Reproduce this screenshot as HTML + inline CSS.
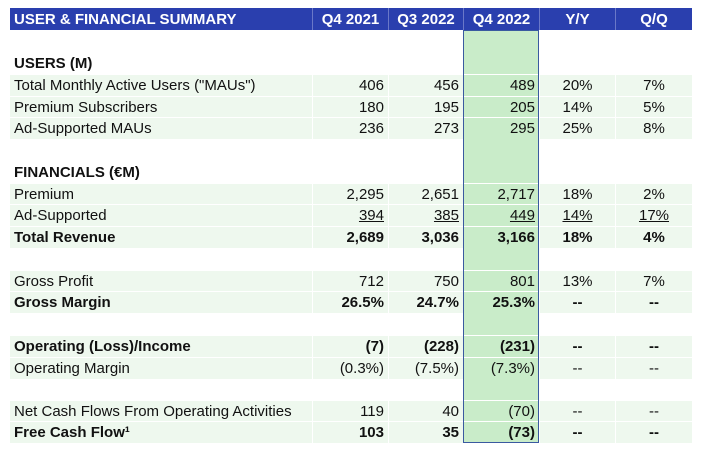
<!DOCTYPE html>
<html><head><style>
body{margin:0;width:701px;height:449px;background:#fff;font-family:"Liberation Sans",Arial,sans-serif;font-size:15px;color:#111;position:relative;overflow:hidden}
.r{position:absolute;left:10px;width:682px;display:flex;box-sizing:border-box;z-index:2}
.r div{box-sizing:border-box;padding:0 4px;white-space:nowrap;display:flex;align-items:center}
.c0{width:302px;padding-left:4px!important}
.c1{width:76px;justify-content:flex-end;border-left:1px solid #fff}
.c2{width:75px;justify-content:flex-end;border-left:1px solid #fff}
.c3{width:76px;justify-content:flex-end}
.g .c3{background:#c9ecc9}
.c4{width:76px;justify-content:center;border-left:1px solid #fff}
.c5{width:77px;justify-content:center;border-left:1px solid #fff}
.h{top:8px;height:22px;background:#2a3fae;color:#fff;font-weight:bold;font-size:15px}
.h .c1,.h .c2,.h .c3,.h .c4,.h .c5{justify-content:center;border-left:1px solid #6a78c8}
.g{background:#eef8ee;border-top:1px solid #fff}
.b{font-weight:bold}
.u span{text-decoration:underline}
#col{position:absolute;left:463px;top:30px;width:76px;height:413px;background:#c9ecc9;z-index:1}
#colb{position:absolute;left:463px;top:30px;width:76px;height:413px;border:1px solid #3a5aa0;box-sizing:border-box;z-index:3}
</style></head><body>
<div id="col"></div><div id="colb"></div>
<div class="r h"><div class="c0">USER &amp; FINANCIAL SUMMARY</div><div class="c1">Q4 2021</div><div class="c2">Q3 2022</div><div class="c3">Q4 2022</div><div class="c4">Y/Y</div><div class="c5">Q/Q</div></div>

<div class="r b" style="top:52px;height:22px"><div class="c0">USERS (M)</div></div>
<div class="r g" style="top:74px;height:22px"><div class="c0">Total Monthly Active Users ("MAUs")</div><div class="c1">406</div><div class="c2">456</div><div class="c3">489</div><div class="c4">20%</div><div class="c5">7%</div></div>
<div class="r g" style="top:96px;height:21px"><div class="c0">Premium Subscribers</div><div class="c1">180</div><div class="c2">195</div><div class="c3">205</div><div class="c4">14%</div><div class="c5">5%</div></div>
<div class="r g" style="top:117px;height:22px"><div class="c0">Ad-Supported MAUs</div><div class="c1">236</div><div class="c2">273</div><div class="c3">295</div><div class="c4">25%</div><div class="c5">8%</div></div>

<div class="r b" style="top:161px;height:22px"><div class="c0">FINANCIALS (€M)</div></div>
<div class="r g" style="top:183px;height:21px"><div class="c0">Premium</div><div class="c1">2,295</div><div class="c2">2,651</div><div class="c3">2,717</div><div class="c4">18%</div><div class="c5">2%</div></div>
<div class="r g u" style="top:204px;height:22px"><div class="c0">Ad-Supported</div><div class="c1"><span>394</span></div><div class="c2"><span>385</span></div><div class="c3"><span>449</span></div><div class="c4"><span>14%</span></div><div class="c5"><span>17%</span></div></div>
<div class="r g b" style="top:226px;height:22px"><div class="c0">Total Revenue</div><div class="c1">2,689</div><div class="c2">3,036</div><div class="c3">3,166</div><div class="c4">18%</div><div class="c5">4%</div></div>

<div class="r g" style="top:270px;height:21px"><div class="c0">Gross Profit</div><div class="c1">712</div><div class="c2">750</div><div class="c3">801</div><div class="c4">13%</div><div class="c5">7%</div></div>
<div class="r g b" style="top:291px;height:22px"><div class="c0">Gross Margin</div><div class="c1">26.5%</div><div class="c2">24.7%</div><div class="c3">25.3%</div><div class="c4">--</div><div class="c5">--</div></div>

<div class="r g b" style="top:335px;height:22px"><div class="c0">Operating (Loss)/Income</div><div class="c1">(7)</div><div class="c2">(228)</div><div class="c3">(231)</div><div class="c4">--</div><div class="c5">--</div></div>
<div class="r g" style="top:357px;height:22px"><div class="c0">Operating Margin</div><div class="c1">(0.3%)</div><div class="c2">(7.5%)</div><div class="c3">(7.3%)</div><div class="c4">--</div><div class="c5">--</div></div>

<div class="r g" style="top:400px;height:21px"><div class="c0">Net Cash Flows From Operating Activities</div><div class="c1">119</div><div class="c2">40</div><div class="c3">(70)</div><div class="c4">--</div><div class="c5">--</div></div>
<div class="r g b" style="top:421px;height:22px"><div class="c0">Free Cash Flow¹</div><div class="c1">103</div><div class="c2">35</div><div class="c3">(73)</div><div class="c4">--</div><div class="c5">--</div></div>
</body></html>
